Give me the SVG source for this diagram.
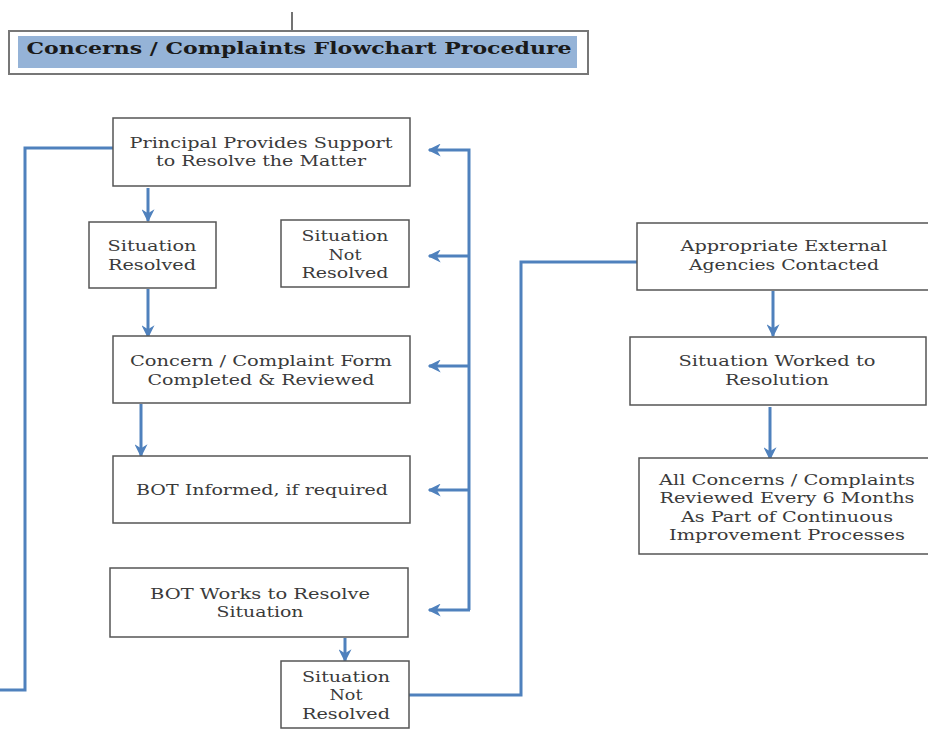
<svg xmlns="http://www.w3.org/2000/svg" width="928" height="730" viewBox="0 0 928 730">
<style>
.box{fill:#fff;stroke:#555;stroke-width:1.5}
.t{font-family:"DejaVu Serif","Liberation Serif",serif;font-size:15px;fill:#3a3a3a;text-anchor:middle}
.c{fill:none;stroke:#4f81bd;stroke-width:3}
.a{marker-end:url(#ah)}
</style>
<defs>
<marker id="ah" viewBox="0 0 10 10" refX="9" refY="5" markerWidth="13" markerHeight="13" markerUnits="userSpaceOnUse" orient="auto">
<path d="M0,0 L10,5 L0,10 L3,5 z" fill="#4f81bd"/>
</marker>
</defs>
<rect width="928" height="730" fill="#fff"/>
<g id="title">
<line x1="292" y1="12" x2="292" y2="31" stroke="#444" stroke-width="1.5"/>
<rect x="9" y="31" width="579" height="43" fill="#fff" stroke="#777" stroke-width="2"/>
<rect x="18" y="36" width="559" height="32" fill="#95b3d7"/>
<text x="299" y="54" font-family="DejaVu Serif,Liberation Serif,serif" font-weight="bold" font-size="17" fill="#1a1a1a" text-anchor="middle" textLength="545" lengthAdjust="spacingAndGlyphs">Concerns / Complaints Flowchart Procedure</text>
</g>
<g id="connectors">
<polyline class="c" points="113,148 25,148 25,690 0,690"/>
<line class="c a" x1="148" y1="188" x2="148" y2="221"/>
<line class="c a" x1="148" y1="289" x2="148" y2="337"/>
<line class="c a" x1="141" y1="404" x2="141" y2="456"/>
<line class="c a" x1="345" y1="638" x2="345" y2="661"/>
<polyline class="c a" points="469,610 469,150 429,150"/>
<line class="c a" x1="469" y1="256" x2="429" y2="256"/>
<line class="c a" x1="469" y1="366" x2="429" y2="366"/>
<line class="c a" x1="469" y1="490" x2="429" y2="490"/>
<line class="c a" x1="470" y1="610" x2="429" y2="610"/>
<polyline class="c" points="409,695 521,695 521,262 637,262"/>
<line class="c a" x1="773" y1="291" x2="773" y2="336"/>
<line class="c a" x1="770" y1="407" x2="770" y2="459"/>
</g>
<g id="n1">
<rect class="box" x="113" y="118" width="297" height="68"/>
<text class="t" x="261" y="148" textLength="263" lengthAdjust="spacingAndGlyphs">Principal Provides Support</text>
<text class="t" x="261" y="166" textLength="210" lengthAdjust="spacingAndGlyphs">to Resolve the Matter</text>
</g>
<g id="n2">
<rect class="box" x="89" y="222" width="127" height="66"/>
<text class="t" x="152" y="251" textLength="89" lengthAdjust="spacingAndGlyphs">Situation</text>
<text class="t" x="152" y="270" textLength="88" lengthAdjust="spacingAndGlyphs">Resolved</text>
</g>
<g id="n3">
<rect class="box" x="281" y="220" width="128" height="67"/>
<text class="t" x="345" y="241" textLength="87" lengthAdjust="spacingAndGlyphs">Situation</text>
<text class="t" x="345" y="260" textLength="33" lengthAdjust="spacingAndGlyphs">Not</text>
<text class="t" x="345" y="278" textLength="87" lengthAdjust="spacingAndGlyphs">Resolved</text>
</g>
<g id="n4">
<rect class="box" x="113" y="336" width="297" height="67"/>
<text class="t" x="261" y="366" textLength="262" lengthAdjust="spacingAndGlyphs">Concern / Complaint Form</text>
<text class="t" x="261" y="385" textLength="227" lengthAdjust="spacingAndGlyphs">Completed &amp; Reviewed</text>
</g>
<g id="n5">
<rect class="box" x="113" y="456" width="297" height="67"/>
<text class="t" x="262" y="495" textLength="252" lengthAdjust="spacingAndGlyphs">BOT Informed, if required</text>
</g>
<g id="n6">
<rect class="box" x="110" y="568" width="298" height="69"/>
<text class="t" x="260" y="599" textLength="220" lengthAdjust="spacingAndGlyphs">BOT Works to Resolve</text>
<text class="t" x="260" y="617" textLength="87" lengthAdjust="spacingAndGlyphs">Situation</text>
</g>
<g id="n7">
<rect class="box" x="281" y="661" width="128" height="67"/>
<text class="t" x="346" y="682" textLength="88" lengthAdjust="spacingAndGlyphs">Situation</text>
<text class="t" x="346" y="700" textLength="33" lengthAdjust="spacingAndGlyphs">Not</text>
<text class="t" x="346" y="719" textLength="88" lengthAdjust="spacingAndGlyphs">Resolved</text>
</g>
<g id="n8">
<rect class="box" x="637" y="223" width="295" height="67"/>
<text class="t" x="784" y="251" textLength="207" lengthAdjust="spacingAndGlyphs">Appropriate External</text>
<text class="t" x="784" y="270" textLength="190" lengthAdjust="spacingAndGlyphs">Agencies Contacted</text>
</g>
<g id="n9">
<rect class="box" x="630" y="337" width="296" height="68"/>
<text class="t" x="777" y="366" textLength="197" lengthAdjust="spacingAndGlyphs">Situation Worked to</text>
<text class="t" x="777" y="385" textLength="104" lengthAdjust="spacingAndGlyphs">Resolution</text>
</g>
<g id="n10">
<rect class="box" x="639" y="458" width="292" height="96"/>
<text class="t" x="787" y="485" textLength="256" lengthAdjust="spacingAndGlyphs">All Concerns / Complaints</text>
<text class="t" x="787" y="503" textLength="255" lengthAdjust="spacingAndGlyphs">Reviewed Every 6 Months</text>
<text class="t" x="787" y="522" textLength="212" lengthAdjust="spacingAndGlyphs">As Part of Continuous</text>
<text class="t" x="787" y="540" textLength="236" lengthAdjust="spacingAndGlyphs">Improvement Processes</text>
</g>
</svg>
